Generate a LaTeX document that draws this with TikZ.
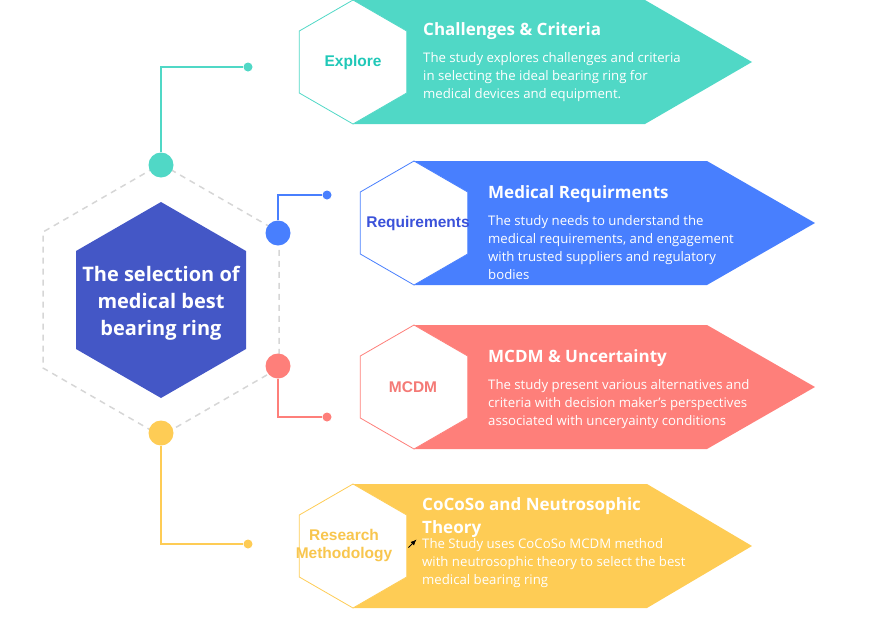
\documentclass[tikz,border=0pt]{standalone}
\usepackage{fontspec}
\setmainfont{Open Sans}
\newfontfamily\arialf{Liberation Sans}
\usetikzlibrary{arrows.meta}
\definecolor{cteal}{HTML}{50D8C6}
\definecolor{cblue}{HTML}{487FFE}
\definecolor{cred}{HTML}{FE7F7A}
\definecolor{cyel}{HTML}{FECC55}
\definecolor{ccore}{HTML}{4457C6}
\definecolor{cgray}{HTML}{D6D6D6}
\definecolor{lteal}{HTML}{20C8B8}
\definecolor{lblue}{HTML}{3B52DA}
\definecolor{lred}{HTML}{F47A76}
\definecolor{lyel}{HTML}{F8C64E}
\newcommand\bannershape[5]{%
  \fill[#5] (#1,#2-62) -- (#3,#2-62) -- (#4,#2) -- (#3,#2+62) -- (#1,#2+62) -- (#1+53.7,#2+31) -- (#1+53.7,#2-31) -- cycle;
  \draw[#5, line width=0.8pt, fill=white] (#1,#2-62) -- (#1+53.7,#2-31) -- (#1+53.7,#2+31) -- (#1,#2+62) -- (#1-53.7,#2+31) -- (#1-53.7,#2-31) -- cycle;}
\tikzset{
  ttl/.style={anchor=base west, inner sep=0pt, text=white, font=\fontsize{17}{23}\selectfont\bfseries, align=left},
  body/.style={anchor=base west, inner sep=0pt, text=white, font=\fontsize{13.2}{18}\selectfont, align=left},
  lab/.style={inner sep=0pt, font=\arialf\fontsize{15.5}{18}\selectfont\bfseries, align=center},
  bigdot/.style={circle, inner sep=0pt, minimum size=25pt},
  smalldot/.style={circle, inner sep=0pt, minimum size=9pt},
  conn/.style={line width=1.5pt}
}
\begin{document}
\begin{tikzpicture}[x=1pt,y=-1pt]
\useasboundingbox (0,0) rectangle (895,619);
% dashed outer hexagon
\draw[cgray, line width=1.5pt, dash pattern=on 6pt off 5pt]
  (161,164) -- (279,232) -- (279,368) -- (161,436) -- (43,368) -- (43,232) -- cycle;
% core hexagon
\fill[ccore] (161,202) -- (246,251) -- (246,349) -- (161,398) -- (76,349) -- (76,251) -- cycle;
\node[inner sep=0pt, text=white, align=center, font=\fontsize{20}{27}\selectfont\bfseries, anchor=base] (core) at (161,335) {The selection of\\medical best\\bearing ring};
% banners
\bannershape{353}{62}{645}{752}{cteal}
\bannershape{414}{223}{707}{815}{cblue}
\bannershape{414}{387}{707}{815}{cred}
\bannershape{353}{546}{647}{752}{cyel}
% hexagon labels
\node[lab, text=lteal] (l1) at (353,62) {Explore};
\node[lab, text=lblue] (l2) at (418,223) {Requirements};
\node[lab, text=lred] (l3) at (413,387) {MCDM};
\node[lab, text=lyel] (l4) at (344,546) {Research\\Methodology};
% titles and bodies
\node[ttl] (t1) at (423,35) {Challenges \& Criteria};
\node[body] (b1) at (423,98) {The study explores challenges and criteria\\in selecting the ideal bearing ring for\\medical devices and equipment.};
\node[ttl] (t2) at (488,198) {Medical Requirments};
\node[body] (b2) at (488,279) {The study needs to understand the\\medical requirements, and engagement\\with trusted suppliers and regulatory\\bodies};
\node[ttl] (t3) at (488,362) {MCDM \& Uncertainty};
\node[body] (b3) at (488,425) {The study present various alternatives and\\criteria with decision maker's perspectives\\associated with unceryainty conditions};
\node[ttl] (t4) at (422,533) {CoCoSo and Neutrosophic\\Theory};
\node[body] (b4) at (422,584) {The Study uses CoCoSo MCDM method\\with neutrosophic theory to select the best\\medical bearing ring};
% small arrow
\coordinate (aa) at (408.5,547.5);
\coordinate (ab) at (416.5,539.5);
\draw[black, line width=0.8pt, -{Latex[length=6pt,width=5pt]}] (aa) -- (ab);
% connector dots
\node[smalldot, fill=cteal] (d1) at (248,67) {};
\node[smalldot, fill=cblue] (d2) at (327,195) {};
\node[smalldot, fill=cred] (d3) at (327,417) {};
\node[smalldot, fill=cyel] (d4) at (248,544) {};
\node[bigdot, fill=cteal] (c1) at (161,165) {};
\node[bigdot, fill=cblue] (c2) at (278,233) {};
\node[bigdot, fill=cred] (c3) at (278,366) {};
\node[bigdot, fill=cyel] (c4) at (161,433) {};
\draw[conn, cteal] (c1) |- (d1);
\draw[conn, cblue] (c2) |- (d2);
\draw[conn, cred] (c3) |- (d3);
\draw[conn, cyel] (c4) |- (d4);
\end{tikzpicture}
\end{document}
